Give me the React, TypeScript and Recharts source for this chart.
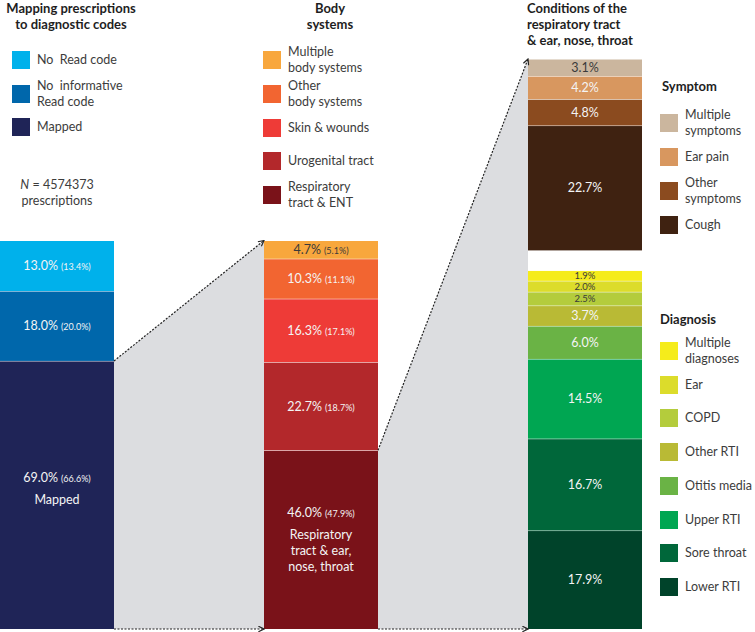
import { ComposedChart, Bar, Area, Line, XAxis, YAxis } from "recharts";

// ---- data (each list runs top to bottom, as in the picture) ----
const stages = ["Mapping", "Body systems", "Respiratory tract & ENT"];

const mappingNames = ["No  Read code", "No  informative\nRead code", "Mapped"];
const mappingShares = [13.0, 18.0, 69.0];
const mappingAlt = [13.4, 20.0, 66.6];
const mappingCaptions = ["", "", "Mapped"];
const mappingColors = ["#00b1eb", "#0067ab", "#1f2457"];

const bodyNames = [
  "Multiple\nbody systems",
  "Other\nbody systems",
  "Skin & wounds",
  "Urogenital tract",
  "Respiratory\ntract & ENT",
];
const bodyShares = [4.7, 10.3, 16.3, 22.7, 46.0];
const bodyAlt = [5.1, 11.1, 17.1, 18.7, 47.9];
const bodyCaptions = ["", "", "", "", "Respiratory\ntract & ear,\nnose, throat"];
const bodyColors = ["#f8a73d", "#f26531", "#ee3b37", "#b3282b", "#7a1219"];

const symptomNames = ["Multiple\nsymptoms", "Ear pain", "Other\nsymptoms", "Cough"];
const symptomShares = [3.1, 4.2, 4.8, 22.7];
const symptomColors = ["#cbb69e", "#d8975f", "#8b4b1f", "#3f2211"];

const diagnosisNames = [
  "Multiple\ndiagnoses",
  "Ear",
  "COPD",
  "Other RTI",
  "Otitis media",
  "Upper RTI",
  "Sore throat",
  "Lower RTI",
];
const diagnosisShares = [1.9, 2.0, 2.5, 3.7, 6.0, 14.5, 16.7, 17.9];
const diagnosisColors = [
  "#f5ec1b",
  "#dcdc2b",
  "#b4cc3c",
  "#b9ba35",
  "#6ab345",
  "#00a652",
  "#00673a",
  "#00432a",
];

// ---- layout ----
const CHART_H = 632;
const PLOT_TOP = 59;
const PLOT_BOTTOM = 629;
const BAND = 264;
const BAR = 114;
const P = (BAND - BAR) / 2 / BAND; // bar edge inside its band, in band units
const LEFT_TOP = 240.5; // top of the first two bars
const LEFT_MAX = (100 * (PLOT_BOTTOM - PLOT_TOP)) / (PLOT_BOTTOM - LEFT_TOP);
const GAP_PX = 20; // white gap between symptoms and diagnoses
const SPACER = (GAP_PX * 100) / (PLOT_BOTTOM - PLOT_TOP - GAP_PX);
const RIGHT_MAX = 100 + SPACER;
const DARK_TEXT = new Set(["#f8a73d", "#cbb69e", "#f5ec1b", "#dcdc2b", "#b4cc3c"]);
const FONT = 'Lato, "Open Sans", sans-serif';
const TEXT = "#3c3c3c";

type Seg = {
  key: string;
  share: number;
  alt?: number;
  caption?: string;
  color: string;
  stage: number;
};

const bottomUp = <T,>(a: T[]) => [...a].reverse();

const leftSegs: Seg[] = [
  ...bottomUp(
    mappingShares.map((share, i) => ({
      key: `map${i}`,
      share,
      alt: mappingAlt[i],
      caption: mappingCaptions[i],
      color: mappingColors[i],
      stage: 0,
    }))
  ),
  ...bottomUp(
    bodyShares.map((share, i) => ({
      key: `body${i}`,
      share,
      alt: bodyAlt[i],
      caption: bodyCaptions[i],
      color: bodyColors[i],
      stage: 1,
    }))
  ),
];

const diagnosisSegs: Seg[] = bottomUp(
  diagnosisShares.map((share, i) => ({ key: `dx${i}`, share, color: diagnosisColors[i], stage: 2 }))
);
const symptomSegs: Seg[] = bottomUp(
  symptomShares.map((share, i) => ({ key: `sym${i}`, share, color: symptomColors[i], stage: 2 }))
);

const rows = stages.map((stage, i) => {
  const row: Record<string, string | number> = { stage };
  [...leftSegs, ...diagnosisSegs, ...symptomSegs]
    .filter((s) => s.stage === i)
    .forEach((s) => (row[s.key] = s.share));
  if (i === 2) row.spacer = SPACER;
  return row;
});

// grey funnels between the bars, on the numeric "pos" axis (one unit per band)
const mappedShare = mappingShares[mappingShares.length - 1];
const respShare = bodyShares[bodyShares.length - 1];
const bodyTotal = bodyShares.reduce((a, b) => a + b, 0);
const funnel1 = [
  { x: 1 - P, y: mappedShare },
  { x: 1 + P, y: bodyTotal },
];
const funnel2 = [
  { x: 2 - P, y: respShare },
  { x: 2 + P, y: LEFT_MAX },
];
const floor1 = [
  { x: 1 - P, y: 0 },
  { x: 1 + P, y: 0 },
];
const floor2 = [
  { x: 2 - P, y: 0 },
  { x: 2 + P, y: 0 },
];

const fmt = (v: number) => `${v.toFixed(1)}%`;

function segmentShape(seg: Seg) {
  return (props: any) => {
    const { x, y, width, height } = props;
    if (!height || height < 0.5) return <g />;
    const cx = x + width / 2;
    const cy = y + height / 2;
    const small = height < 14;
    const fg = DARK_TEXT.has(seg.color) ? "#3a3a3a" : "#f4f4f4";
    const lines = seg.caption ? seg.caption.split("\n") : [];
    const block = lines.length ? 22 + 16 * (lines.length - 1) : 0;
    const py = cy - block / 2 - (lines.length === 1 ? 6 : 0);
    return (
      <g>
        <rect x={x} y={y} width={width} height={height} fill={seg.color} />
        <line x1={x} x2={x + width} y1={y} y2={y} stroke="#fff" strokeWidth={1} />
        <text
          x={cx}
          y={py + (small ? 3.3 : 4.5)}
          textAnchor="middle"
          fill={fg}
          fontFamily={FONT}
          fontSize={small ? 9.5 : 12.5}
        >
          {fmt(seg.share)}
          {seg.alt != null && (
            <tspan fontSize={9} dx={3}>
              ({fmt(seg.alt)})
            </tspan>
          )}
        </text>
        {lines.map((l, k) => (
          <text
            key={k}
            x={cx}
            y={py + 22 + 16 * k + 4.5}
            textAnchor="middle"
            fill={fg}
            fontFamily={FONT}
            fontSize={12.5}
          >
            {l}
          </text>
        ))}
      </g>
    );
  };
}

function Legend({
  names,
  colors,
  left,
  top,
  step,
}: {
  names: string[];
  colors: string[];
  left: number;
  top: number;
  step: number;
}) {
  return (
    <>
      {names.map((n, i) => (
        <div
          key={n}
          style={{
            position: "absolute",
            left,
            top: top + i * step,
            height: 18,
            display: "flex",
            alignItems: "center",
            whiteSpace: "pre",
          }}
        >
          <div style={{ width: 18, height: 18, background: colors[i], flex: "none" }} />
          <div style={{ marginLeft: 7, lineHeight: "16px", fontSize: 12.5 }}>{n}</div>
        </div>
      ))}
    </>
  );
}

const titleStyle = {
  position: "absolute" as const,
  fontWeight: 700,
  fontSize: 13,
  lineHeight: "16px",
  whiteSpace: "pre" as const,
  color: "#1e1e1e",
};

export default function App() {
  return (
    <div
      style={{
        position: "absolute",
        left: 0,
        top: 0,
        width: 755,
        height: 632,
        overflow: "hidden",
        background: "#fff",
        fontFamily: FONT,
        color: TEXT,
      }}
    >
      <div style={{ position: "absolute", left: -75, top: 0 }}>
        <ComposedChart
          width={3 * BAND + 50}
          height={CHART_H}
          data={rows}
          margin={{ top: PLOT_TOP, right: 50, bottom: CHART_H - PLOT_BOTTOM, left: 0 }}
        >
          <defs>
            <marker
              id="arrowHead"
              viewBox="0 0 10 10"
              refX="9"
              refY="5"
              markerWidth="7"
              markerHeight="7"
              orient="auto"
              markerUnits="userSpaceOnUse"
            >
              <path d="M1,1 L9,5 L1,9" fill="none" stroke="#222" strokeWidth="1.6" />
            </marker>
          </defs>
          <XAxis xAxisId="stage" dataKey="stage" hide />
          <XAxis xAxisId="stageRight" dataKey="stage" hide />
          <XAxis xAxisId="pos" type="number" dataKey="x" domain={[0, 3]} hide />
          <YAxis yAxisId="left" type="number" domain={[0, LEFT_MAX]} hide />
          <YAxis yAxisId="right" type="number" domain={[0, RIGHT_MAX]} hide />

          {[funnel1, funnel2].map((d, i) => (
            <Area
              key={`f${i}`}
              data={d}
              dataKey="y"
              xAxisId="pos"
              yAxisId="left"
              type="linear"
              fill="#dcdde0"
              fillOpacity={1}
              stroke="none"
              isAnimationActive={false}
            />
          ))}

          {leftSegs.map((s) => (
            <Bar
              key={s.key}
              dataKey={s.key}
              stackId="left"
              xAxisId="stage"
              yAxisId="left"
              barSize={BAR}
              fill={s.color}
              shape={segmentShape(s)}
              isAnimationActive={false}
            />
          ))}
          {diagnosisSegs.map((s) => (
            <Bar
              key={s.key}
              dataKey={s.key}
              stackId="right"
              xAxisId="stageRight"
              yAxisId="right"
              barSize={BAR}
              fill={s.color}
              shape={segmentShape(s)}
              isAnimationActive={false}
            />
          ))}
          <Bar
            dataKey="spacer"
            stackId="right"
            xAxisId="stageRight"
            yAxisId="right"
            barSize={BAR}
            fill="none"
            shape={() => <g />}
            isAnimationActive={false}
          />
          {symptomSegs.map((s) => (
            <Bar
              key={s.key}
              dataKey={s.key}
              stackId="right"
              xAxisId="stageRight"
              yAxisId="right"
              barSize={BAR}
              fill={s.color}
              shape={segmentShape(s)}
              isAnimationActive={false}
            />
          ))}

          {[funnel1, funnel2, floor1, floor2].map((d, i) => (
            <Line
              key={`l${i}`}
              data={d}
              dataKey="y"
              xAxisId="pos"
              yAxisId="left"
              type="linear"
              stroke="#222"
              strokeWidth={1.2}
              strokeDasharray="2 1.5"
              dot={false}
              markerEnd="url(#arrowHead)"
              isAnimationActive={false}
            />
          ))}
        </ComposedChart>
      </div>

      {/* titles */}
      <div style={{ ...titleStyle, left: 0, top: 0, width: 142, textAlign: "center" }}>
        {"Mapping prescriptions\nto diagnostic codes"}
      </div>
      <div style={{ ...titleStyle, left: 280, top: 0, width: 100, textAlign: "center" }}>
        {"Body\nsystems"}
      </div>
      <div style={{ ...titleStyle, left: 527, top: 0 }}>
        {"Conditions of the\nrespiratory tract\n& ear, nose, throat"}
      </div>
      <div style={{ ...titleStyle, left: 662, top: 78 }}>Symptom</div>
      <div style={{ ...titleStyle, left: 660, top: 311 }}>Diagnosis</div>

      <div
        style={{
          position: "absolute",
          left: 0,
          top: 177,
          width: 114,
          textAlign: "center",
          fontSize: 12.5,
          lineHeight: "16px",
        }}
      >
        <i>N</i> = 4574373
        <br />
        prescriptions
      </div>

      {/* legends */}
      <Legend names={mappingNames} colors={mappingColors} left={12} top={51} step={33.5} />
      <Legend names={bodyNames} colors={bodyColors} left={263} top={51} step={33.75} />
      <Legend names={symptomNames} colors={symptomColors} left={660} top={114} step={34} />
      <Legend names={diagnosisNames} colors={diagnosisColors} left={660} top={342} step={33.7} />
    </div>
  );
}
